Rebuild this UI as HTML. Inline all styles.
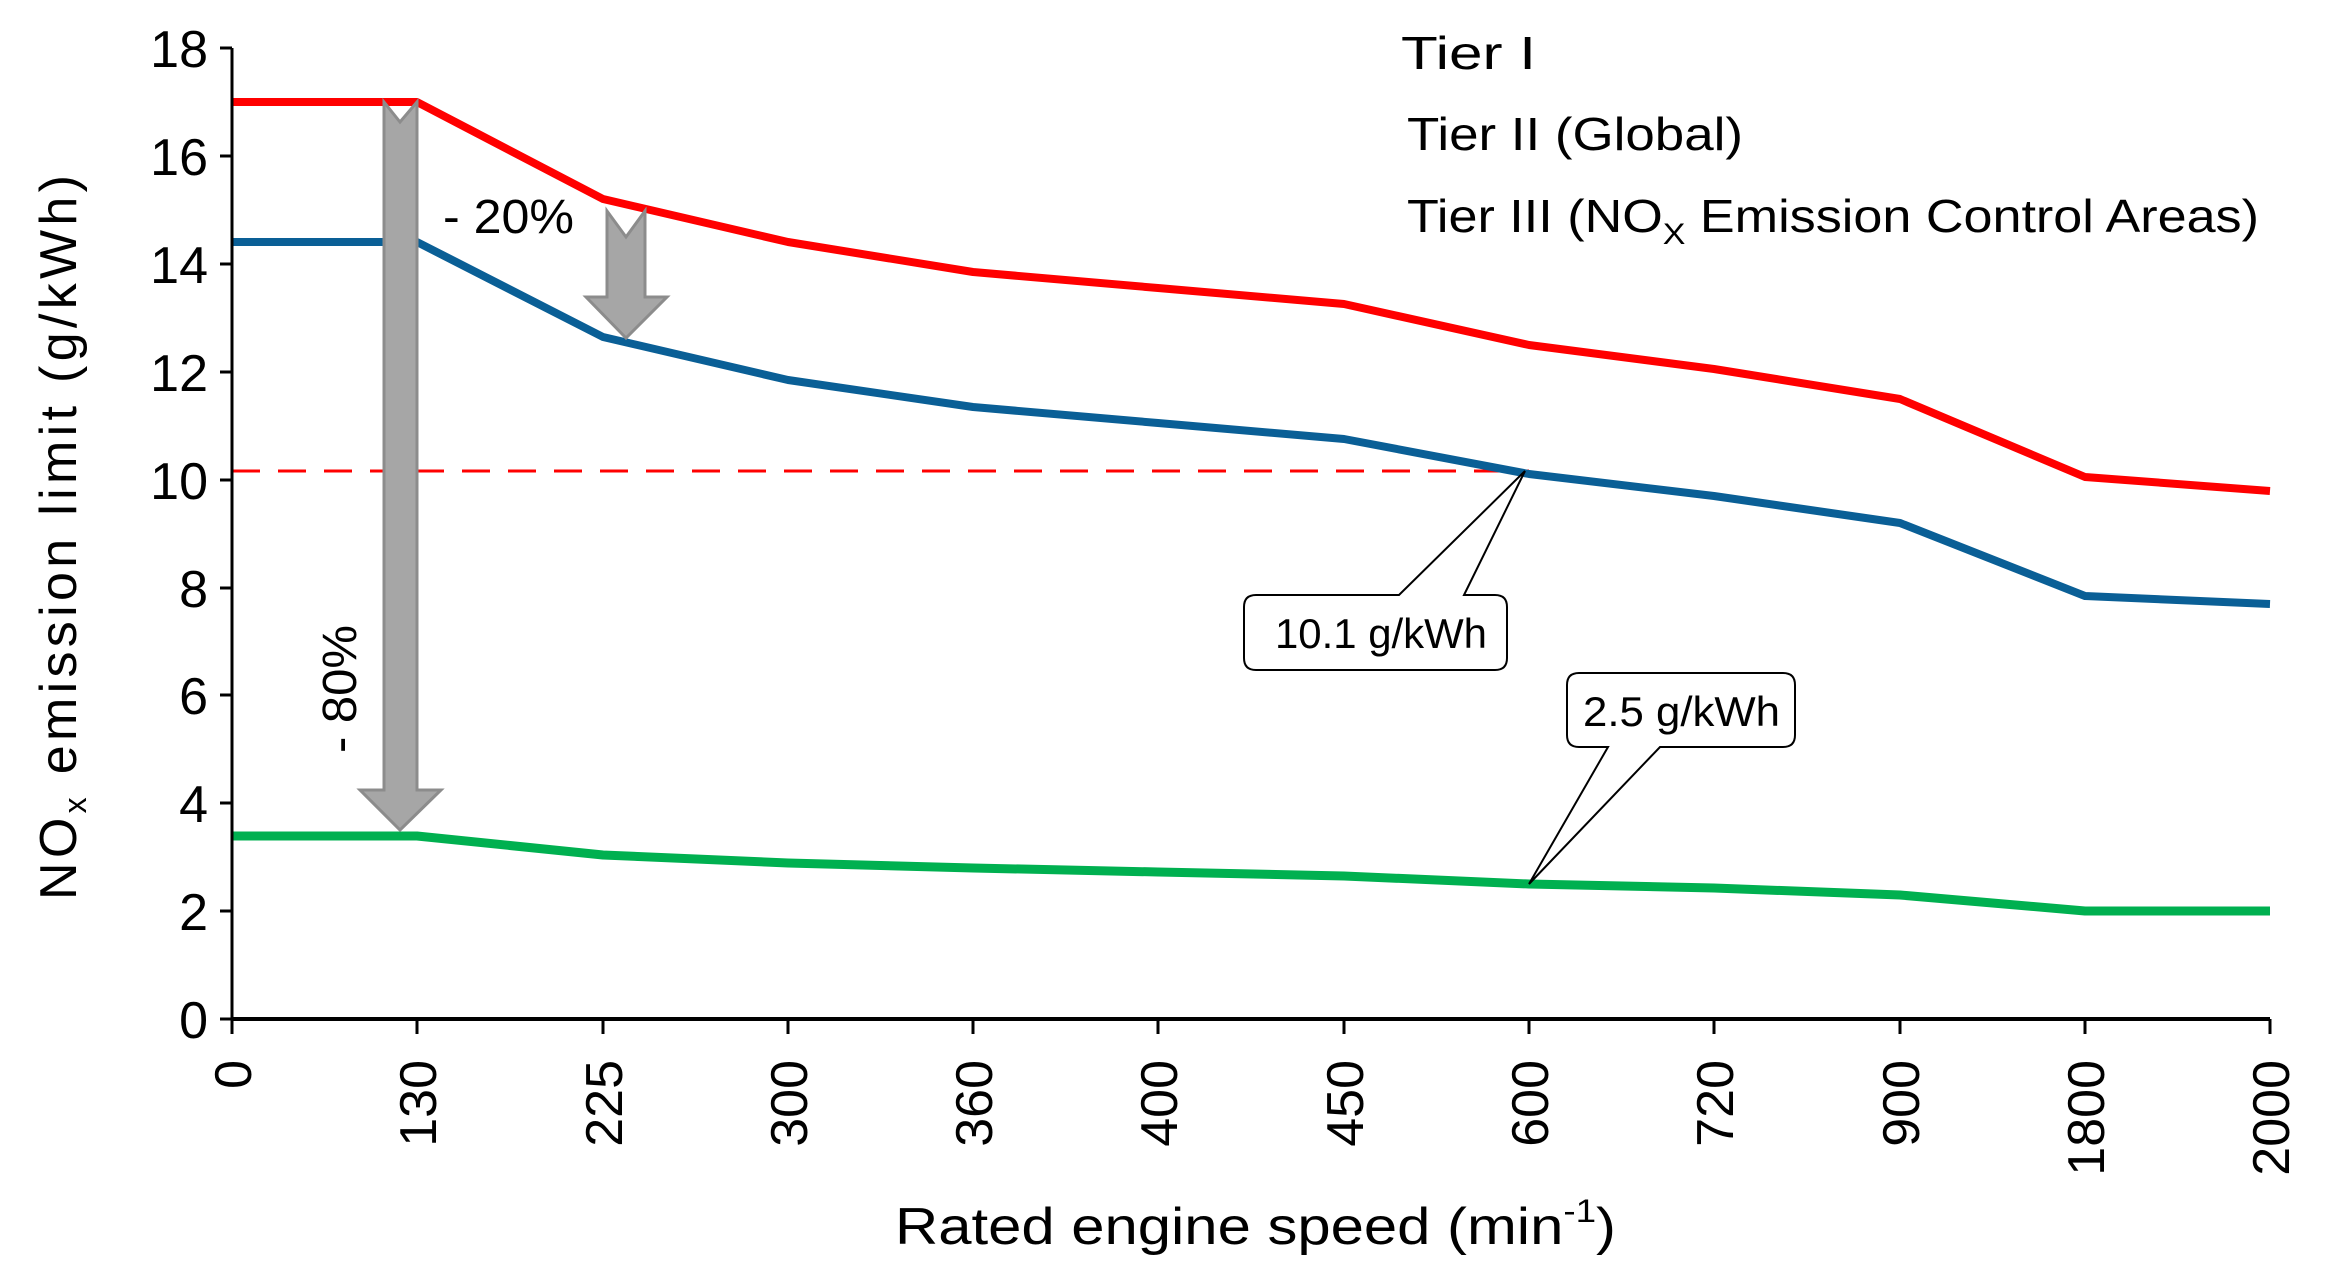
<!DOCTYPE html>
<html><head><meta charset="utf-8"><style>
html,body{margin:0;padding:0;background:#fff;}
svg{display:block;font-family:"Liberation Sans",Arial,sans-serif;}
</style></head><body>
<svg width="2345" height="1269" viewBox="0 0 2345 1269" xmlns="http://www.w3.org/2000/svg">
<!-- dashed -->
<line x1="232" y1="471" x2="1529" y2="471" stroke="#ff0000" stroke-width="3" stroke-dasharray="28,18"/>
<!-- series -->
<polyline fill="none" stroke="#ff0000" stroke-width="8" stroke-linejoin="round" points="232,102 417,102 603,199 788,242 973,272 1158,288 1344,304 1529,345 1714,369 1900,399 2085,477 2270,491"/>
<polyline fill="none" stroke="#0a5f96" stroke-width="8" stroke-linejoin="round" points="232,242 417,242 603,337 788,380 973,407 1158,423 1344,439 1529,474 1714,496 1900,523 2085,596 2270,604"/>
<polyline fill="none" stroke="#00b050" stroke-width="9" stroke-linejoin="round" points="232,836 417,836 603,855 788,863 973,868 1158,872 1344,876 1529,884 1714,888 1900,895 2085,911 2270,911"/>
<!-- axes -->
<line x1="232" y1="48" x2="232" y2="1019" stroke="#000" stroke-width="3"/>
<line x1="232" y1="1019" x2="2270" y2="1019" stroke="#000" stroke-width="4"/>
<g stroke="#000" stroke-width="3">
<line x1="220" y1="48" x2="232" y2="48"/><line x1="220" y1="156" x2="232" y2="156"/><line x1="220" y1="264" x2="232" y2="264"/><line x1="220" y1="372" x2="232" y2="372"/><line x1="220" y1="480" x2="232" y2="480"/><line x1="220" y1="588" x2="232" y2="588"/><line x1="220" y1="695" x2="232" y2="695"/><line x1="220" y1="803" x2="232" y2="803"/><line x1="220" y1="911" x2="232" y2="911"/><line x1="220" y1="1019" x2="232" y2="1019"/>
<line x1="232" y1="1019" x2="232" y2="1034"/><line x1="417" y1="1019" x2="417" y2="1034"/><line x1="603" y1="1019" x2="603" y2="1034"/><line x1="788" y1="1019" x2="788" y2="1034"/><line x1="973" y1="1019" x2="973" y2="1034"/><line x1="1158" y1="1019" x2="1158" y2="1034"/><line x1="1344" y1="1019" x2="1344" y2="1034"/><line x1="1529" y1="1019" x2="1529" y2="1034"/><line x1="1714" y1="1019" x2="1714" y2="1034"/><line x1="1900" y1="1019" x2="1900" y2="1034"/><line x1="2085" y1="1019" x2="2085" y2="1034"/><line x1="2270" y1="1019" x2="2270" y2="1034"/>
</g>
<g font-size="52" text-anchor="end" fill="#000">
<text x="208" y="67">18</text><text x="208" y="175">16</text><text x="208" y="283">14</text><text x="208" y="391">12</text><text x="208" y="499">10</text><text x="208" y="607">8</text><text x="208" y="714">6</text><text x="208" y="822">4</text><text x="208" y="930">2</text><text x="208" y="1038">0</text>
</g>
<g font-size="52" text-anchor="end" fill="#000">
<text transform="translate(251,1060) rotate(-90)">0</text>
<text transform="translate(436,1060) rotate(-90)">130</text>
<text transform="translate(622,1060) rotate(-90)">225</text>
<text transform="translate(807,1060) rotate(-90)">300</text>
<text transform="translate(992,1060) rotate(-90)">360</text>
<text transform="translate(1177,1060) rotate(-90)">400</text>
<text transform="translate(1363,1060) rotate(-90)">450</text>
<text transform="translate(1548,1060) rotate(-90)">600</text>
<text transform="translate(1733,1060) rotate(-90)">720</text>
<text transform="translate(1919,1060) rotate(-90)">900</text>
<text transform="translate(2104,1060) rotate(-90)">1800</text>
<text transform="translate(2289,1060) rotate(-90)">2000</text>
</g>
<!-- axis titles -->
<text x="895" y="1244" font-size="52" textLength="721" lengthAdjust="spacingAndGlyphs">Rated engine speed (min<tspan font-size="32" dy="-22">-1</tspan><tspan dy="22">)</tspan></text>
<text transform="translate(76,900) rotate(-90)" font-size="52" textLength="725" lengthAdjust="spacing">NO<tspan font-size="32" dy="10">x</tspan><tspan dy="-10"> emission limit (g/kWh)</tspan></text>
<!-- legend text -->
<g font-size="46" fill="#000">
<text x="1401" y="69" textLength="135" lengthAdjust="spacingAndGlyphs">Tier I</text>
<text x="1407" y="150" textLength="336" lengthAdjust="spacingAndGlyphs">Tier II  (Global)</text>
<text x="1407" y="232" textLength="852" lengthAdjust="spacingAndGlyphs">Tier III  (NO<tspan font-size="30" dy="12">X</tspan><tspan dy="-12"> Emission Control Areas)</tspan></text>
</g>
<!-- arrows -->
<polygon points="384,102 400,122 417,102 417,790 441,790 400,830 360,790 384,790" fill="#a6a6a6" stroke="#8c8c8c" stroke-width="3"/>
<polygon points="607,211 626,237 645,211 645,297 667,297 626,338 586,297 607,297" fill="#a6a6a6" stroke="#8c8c8c" stroke-width="3"/>
<text x="443" y="233" font-size="48" textLength="131" lengthAdjust="spacingAndGlyphs">- 20%</text>
<text transform="translate(356,753) rotate(-90)" font-size="48" textLength="128" lengthAdjust="spacingAndGlyphs">- 80%</text>
<!-- callouts -->
<path d="M1256,595 L1399,595 L1525,471 L1464,595 L1495,595 Q1507,595 1507,607 L1507,658 Q1507,670 1495,670 L1256,670 Q1244,670 1244,658 L1244,607 Q1244,595 1256,595 Z" fill="#fff" stroke="#000" stroke-width="2"/>
<text x="1275" y="648" font-size="42" textLength="212" lengthAdjust="spacingAndGlyphs">10.1 g/kWh</text>
<path d="M1579,673 L1783,673 Q1795,673 1795,685 L1795,735 Q1795,747 1783,747 L1660,747 L1529,884 L1608,747 L1579,747 Q1567,747 1567,735 L1567,685 Q1567,673 1579,673 Z" fill="#fff" stroke="#000" stroke-width="2"/>
<text x="1583" y="726" font-size="42" textLength="197" lengthAdjust="spacingAndGlyphs">2.5 g/kWh</text>
</svg>
</body></html>
